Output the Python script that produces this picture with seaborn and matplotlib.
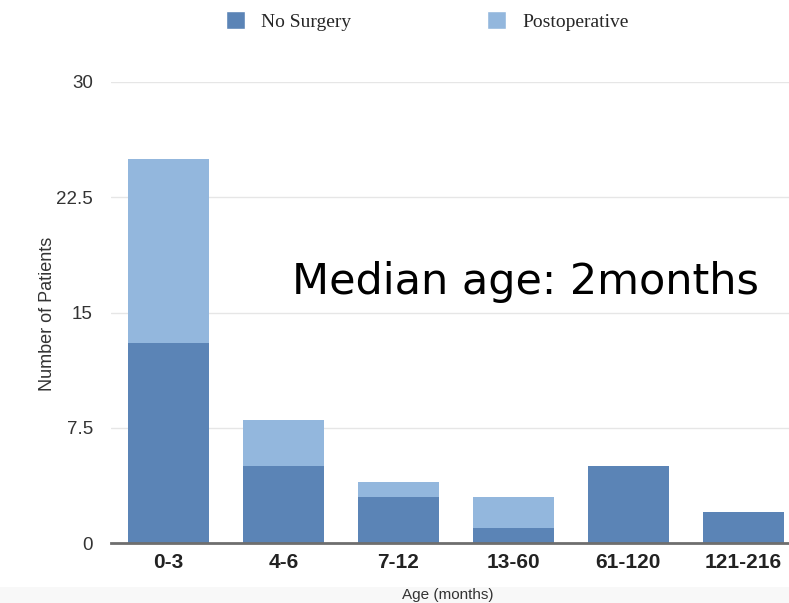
import matplotlib
matplotlib.use("Agg")
import matplotlib.pyplot as plt
from matplotlib.patches import Patch, Rectangle
import seaborn as sns
import pandas as pd

# Data
age_groups = ["0-3", "4-6", "7-12", "13-60", "61-120", "121-216"]
no_surgery = [13, 5, 3, 1, 5, 2]
postoperative = [12, 3, 1, 2, 0, 0]
y_ticks = [0, 7.5, 15, 22.5, 30]
y_tick_labels = ["0", "7.5", "15", "22.5", "30"]

dark_blue = "#5b84b6"
light_blue = "#93b7dd"

sns.set_theme(style="white")
plt.rcParams["font.family"] = ["Liberation Sans", "DejaVu Sans"]

df = pd.DataFrame({
    "age": age_groups,
    "no_surgery": no_surgery,
    "total": [a + b for a, b in zip(no_surgery, postoperative)],
})

fig = plt.figure(figsize=(7.89, 6.03), dpi=100)

# faint grey band along the bottom edge
fig.patches.append(Rectangle((0, 0), 1, 16 / 603, transform=fig.transFigure,
                             facecolor="#f8f8f8", edgecolor="none", zorder=-5))

ax = fig.add_axes([111 / 789, 60 / 603, (789 - 111) / 789, 461 / 603])

# stacked bars: total first (light), then the lower segment (dark)
sns.barplot(data=df, x="age", y="total", color=light_blue, width=0.705,
            saturation=1, ax=ax, zorder=2)
sns.barplot(data=df, x="age", y="no_surgery", color=dark_blue, width=0.705,
            saturation=1, ax=ax, zorder=3)
for p in ax.patches:
    p.set_edgecolor("none")

ax.set_xlim(-0.5, 5.4)
ax.set_ylim(0, 30)
ax.set_yticks(y_ticks)
ax.set_yticklabels(y_tick_labels)
ax.yaxis.grid(True, color="#e6e6e6", linewidth=1, zorder=0)
ax.set_axisbelow(True)
sns.despine(ax=ax, left=True, top=True, right=True)
ax.spines["bottom"].set_color("#6e6e6e")
ax.spines["bottom"].set_linewidth(2)
ax.spines["bottom"].set_zorder(5)

ax.tick_params(axis="y", length=0, pad=13, labelsize=13.5, labelcolor="#333333")
ax.tick_params(axis="x", length=0, pad=7, labelsize=15, labelcolor="#222222")
for t in ax.get_xticklabels():
    t.set_fontweight("bold")

ax.set_xlabel("Age (months)", fontsize=11, color="#333333")
ax.xaxis.set_label_coords((448 - 111) / 678, -(588 - 543) / 461)
ax.set_ylabel("Number of Patients", fontsize=13, color="#333333")
ax.yaxis.set_label_coords(-(111 - 56) / 678, 0.5 - (313 - 312) / 461)

ax.text((525 - 111) / 678, (543 - 282) / 461, "Median age: 2months",
        transform=ax.transAxes, fontsize=31, color="black",
        ha="center", va="center",
        family=["DejaVu Sans"], zorder=6)

handles = [Patch(facecolor=dark_blue, label="No Surgery"),
           Patch(facecolor=light_blue, label="Postoperative")]
fig.legend(handles=handles, loc="center",
           bbox_to_anchor=(427 / 789, 1 - 21 / 603),
           ncol=2, frameon=False, columnspacing=7, handlelength=1.0,
           handleheight=1.0, handletextpad=0.8,
           prop={"family": "Liberation Serif", "size": 14})

fig.savefig("out.png", dpi=100)
